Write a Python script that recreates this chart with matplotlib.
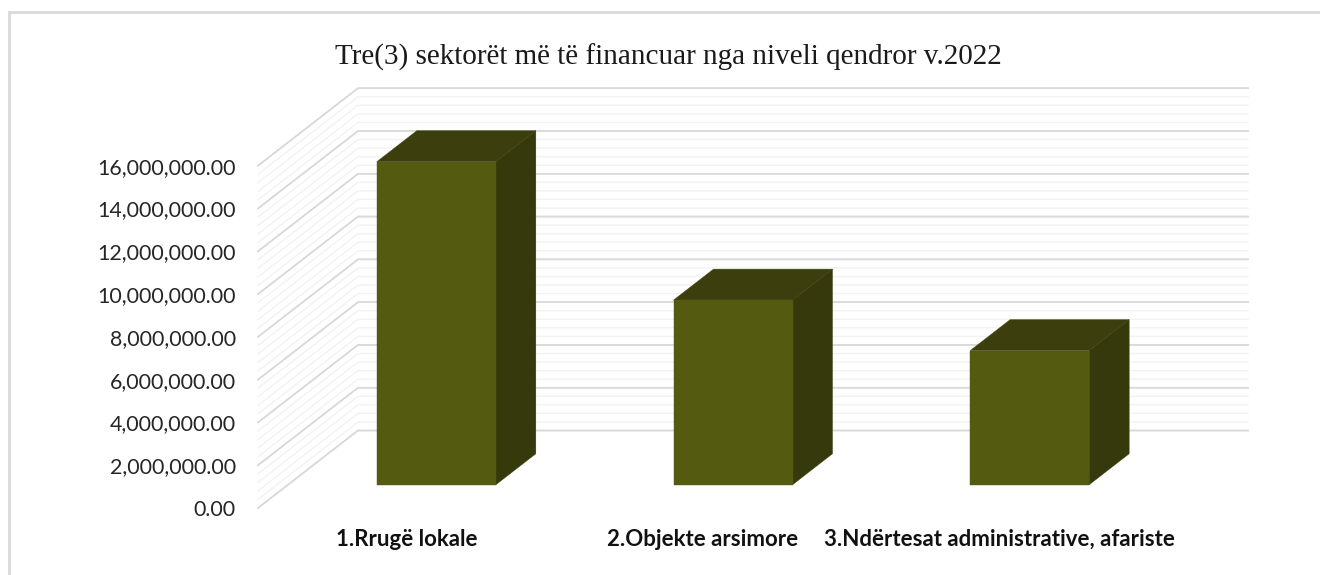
import matplotlib
matplotlib.use("Agg")
import matplotlib.pyplot as plt
from matplotlib.lines import Line2D
from matplotlib.patches import Polygon

categories = ["1.Rrugë lokale", "2.Objekte arsimore", "3.Ndërtesat administrative, afariste"]
values = [15100000, 8630000, 6270000]
major_ticks = [0, 2000000, 4000000, 6000000, 8000000, 10000000, 12000000, 14000000, 16000000]
minor_ticks = [i * 400000 for i in range(41)]
title = "Tre(3) sektorët më të financuar nga niveli qendror v.2022"

W, H = 1320, 575
FRONT_COLOR = "#545a10"
TOP_COLOR = "#3c3f0d"
SIDE_COLOR = "#35390c"

# floor of the fake 3d box, all in pixels of the reference
left, right, bottom, top = 258, 1148, 508, 165.7
slot = (right - left) / 3
depth_x = 100 / slot
depth_y = 77.5 / ((bottom - top) / 16000000)
bar_width = 119 / slot
bar_near, bar_far = 0.3, 0.7

fig = plt.figure(figsize=(W / 100, H / 100), dpi=100)
ax = fig.add_axes([left / W, 1 - bottom / H, (right - left) / W, (bottom - top) / H])
ax.set_xlim(-0.5, 2.5)
ax.set_ylim(0, 16000000)
for spine in ax.spines.values():
    spine.set_visible(False)


def shift(x, y, depth):
    return x + depth * depth_x, y + depth * depth_y


# walls: minors first so that the majors sit on top
for tick in minor_ticks + major_ticks:
    major = tick in major_ticks
    color = "#d9d9d9" if major else "#f2f2f2"
    lw = 1.1 if major else 1.0
    back = shift(-0.5, tick, 1)
    end = shift(2.5, tick, 1)
    ax.plot([-0.5, back[0], end[0]], [tick, back[1], end[1]], color=color, lw=lw,
            clip_on=False, solid_joinstyle="miter", zorder=2 if major else 1)

for i, value in enumerate(values):
    x0, x1 = i - bar_width / 2, i + bar_width / 2
    a = shift(x0, 0, bar_near)
    b = shift(x1, 0, bar_near)
    c = shift(x1, value, bar_near)
    d = shift(x0, value, bar_near)
    e = shift(x0, value, bar_far)
    f = shift(x1, value, bar_far)
    g = shift(x1, 0, bar_far)
    ax.add_patch(Polygon([b, g, f, c], fc=SIDE_COLOR, ec=SIDE_COLOR, lw=0.3, clip_on=False, zorder=3))
    ax.add_patch(Polygon([d, c, f, e], fc=TOP_COLOR, ec=TOP_COLOR, lw=0.3, clip_on=False, zorder=3))
    ax.add_patch(Polygon([a, b, c, d], fc=FRONT_COLOR, ec=FRONT_COLOR, lw=0.3, clip_on=False, zorder=4))

ax.set_yticks(major_ticks)
ax.set_yticklabels([f"{t:,.2f}" for t in major_ticks], fontfamily="Lato", fontsize=15.4, color="#262626")
ax.set_xticks(range(3))
ax.set_xticklabels(categories, fontfamily="Lato", fontweight="bold", fontsize=16, color="#111111")
ax.tick_params(axis="y", length=0, pad=16)
ax.tick_params(axis="x", length=0, pad=15)

fig.text(668 / W, 1 - 57 / H, title, ha="center", va="center", family="Liberation Serif",
         fontsize=21, color="#1a1a1a")

# chart frame, only top and left show up in the crop
border = "#d9d9d9"
fig.add_artist(Line2D([9 / W, 9 / W], [0, 1 - 12 / H], color=border, lw=2))
fig.add_artist(Line2D([9 / W, 1], [1 - 12 / H, 1 - 12 / H], color=border, lw=2))

fig.savefig("out.png", dpi=100)
